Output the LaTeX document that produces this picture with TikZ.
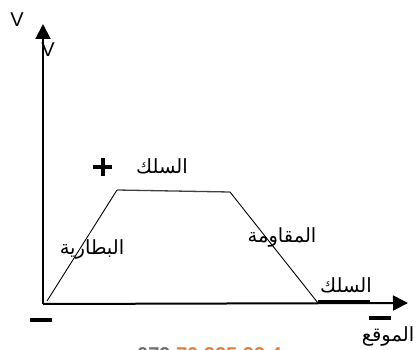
\documentclass[tikz,border=0pt]{standalone}
\usepackage{fontspec}
\setmainfont{Liberation Sans}
\newfontfamily\arabicfont[Script=Arabic]{DejaVu Sans}
\TeXXeTstate=1
\usetikzlibrary{arrows.meta}
\definecolor{wmorange}{RGB}{240,125,45}
\definecolor{wmgray}{RGB}{110,110,110}
\begin{document}
\begin{tikzpicture}[x=1pt,y=-1pt,
  ar/.style={font=\arabicfont\fontsize{19.5}{22}\selectfont, inner sep=0pt},
  vlab/.style={font=\fontsize{20}{22}\selectfont, inner sep=0pt},
  axisline/.style={line width=2pt, -{Triangle[length=15pt,width=15pt]}},
  graphline/.style={line width=0.9pt},
  topline/.style={line width=1.3pt, black!75},
  barline/.style={line width=3pt},
  signline/.style={line width=4pt}]
\useasboundingbox (0,0) rectangle (417,350);
% axes
\coordinate (O) at (43,304);
\coordinate (ytop) at (43,24);
\coordinate (xend) at (408,303);
\draw[axisline] (O) -- (ytop);
\draw[axisline] (O) -- (xend);
% graph
\coordinate (A) at (47,301);
\coordinate (B) at (117,190);
\coordinate (C) at (230,192);
\coordinate (D) at (318,303);
\coordinate (E) at (370,301);
\draw[graphline] (A) -- (B);
\draw[topline] (B) -- (C);
\draw[graphline] (C) -- (D);
\draw[barline] (D |- E) -- (E);
% signs
\coordinate (m1a) at (30,320);
\coordinate (m1b) at (52,320);
\draw[signline] (m1a) -- (m1b);
\coordinate (m2a) at (369,318);
\coordinate (m2b) at (391,318);
\draw[signline] (m2a) -- (m2b);
\coordinate (p1a) at (93,167);
\coordinate (p1b) at (112,167);
\coordinate (p2a) at (102.5,158);
\coordinate (p2b) at (102.5,176);
\draw[signline] (p1a) -- (p1b);
\draw[signline] (p2a) -- (p2b);
% labels
\node[vlab] (v1) at (17,20) {V};
\node[vlab] (v2) at (48,50) {V};
\node[ar] (wire1) at (162,166) {\beginR السلك\endR};
\node[ar] (battery) at (92,249) {\beginR البطارية\endR};
\node[ar] (resist) at (282,237) {\beginR المقاومة\endR};
\node[ar] (wire2) at (346,285) {\beginR السلك\endR};
\node[ar] (pos) at (388,336) {\beginR الموقع\endR};
% clipped watermark number at bottom
\node[anchor=north west, inner sep=0pt, font=\bfseries\fontsize{20}{22}\selectfont] (wm) at (137,347)
  {\textcolor{wmgray}{079} \textcolor{wmorange}{70 225 22 4}};
\end{tikzpicture}
\end{document}
